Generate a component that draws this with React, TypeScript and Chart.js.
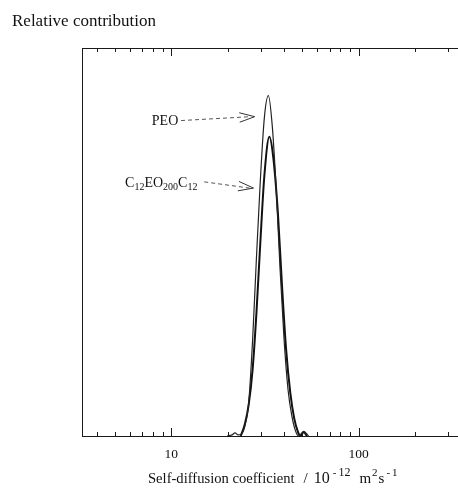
import React, { useEffect, useRef } from 'react';
import { Chart, registerables } from 'chart.js';
Chart.register(...registerables);

const FONT = '"Liberation Serif", "Times New Roman", serif';

// Self-diffusion coefficient (10^-12 m^2 s^-1) and relative contribution
const peoD = [19.9, 21.1, 21.9, 22.7, 23.5, 24.7, 25.9, 27.2, 28.5, 29.9, 31.4, 33.0, 34.6, 36.3, 38.1, 40.0, 42.0, 44.1, 46.3, 48.0, 50.9, 54.1];
const peoY = [0, 0.003, 0.008, 0.003, 0.004, 0.025, 0.085, 0.25, 0.46, 0.66, 0.82, 0.877, 0.8, 0.64, 0.43, 0.25, 0.12, 0.05, 0.01, 0, 0.012, 0];

const c12D = [23.5, 24.7, 25.9, 27.2, 28.5, 29.9, 31.4, 33.4, 35.0, 37.1, 39.0, 41.0, 43.2, 45.3, 47.5, 49.0, 50.9, 53.0];
const c12Y = [0, 0.03, 0.08, 0.173, 0.318, 0.5, 0.67, 0.771, 0.72, 0.574, 0.389, 0.225, 0.111, 0.046, 0.01, 0, 0.01, 0];

const majorTicks = [10, 100];
const minorTicks = [4, 5, 6, 7, 8, 9, 20, 30, 40, 50, 60, 70, 80, 90, 200, 300];
const xMin = 3.34;
const xMax = 303;

// annotation anchors in data coordinates
const peoLabel = { text: 'PEO', x: 10.9, y: 0.802 };
const peoArrow = { x0: 11.28, y0: 0.813, x1: 27.9, y1: 0.823 };
const c12Label = { x: 5.67, y: 0.642 };
const c12Arrow = { x0: 15.0, y0: 0.655, x1: 27.5, y1: 0.639 };

type Part = { t: string; size: number; dy: number; gap?: number };

function drawRich(ctx: CanvasRenderingContext2D, parts: Part[], x: number, y: number, align: 'left' | 'right' | 'center') {
  let total = 0;
  for (const p of parts) {
    ctx.font = `${p.size}px ${FONT}`;
    total += ctx.measureText(p.t).width + (p.gap || 0);
  }
  let cx = align === 'left' ? x : align === 'right' ? x - total : x - total / 2;
  ctx.textAlign = 'left';
  ctx.textBaseline = 'alphabetic';
  for (const p of parts) {
    ctx.font = `${p.size}px ${FONT}`;
    cx += p.gap || 0;
    ctx.fillText(p.t, cx, y + p.dy);
    cx += ctx.measureText(p.t).width;
  }
}

function drawArrow(ctx: CanvasRenderingContext2D, x0: number, y0: number, x1: number, y1: number) {
  ctx.save();
  ctx.strokeStyle = '#555';
  ctx.lineWidth = 1;
  ctx.setLineDash([4, 3]);
  ctx.beginPath();
  ctx.moveTo(x0, y0);
  ctx.lineTo(x1 - 4, y1);
  ctx.stroke();
  ctx.setLineDash([]);
  const ang = Math.atan2(y1 - y0, x1 - x0);
  const L = 16;
  const spread = 0.3;
  ctx.strokeStyle = '#333';
  ctx.beginPath();
  ctx.moveTo(x1 + L * Math.cos(ang + Math.PI - spread), y1 + L * Math.sin(ang + Math.PI - spread));
  ctx.lineTo(x1, y1);
  ctx.lineTo(x1 + L * Math.cos(ang + Math.PI + spread), y1 + L * Math.sin(ang + Math.PI + spread));
  ctx.stroke();
  ctx.restore();
}

export default function App() {
  const ref = useRef<HTMLCanvasElement>(null);

  useEffect(() => {
    const canvas = ref.current!;
    const framePlugin = {
      id: 'frame',
      afterDraw(chart: any) {
        const { ctx, chartArea: a, scales } = chart;
        const xs = scales.x;
        const ys = scales.y;
        ctx.save();
        ctx.strokeStyle = '#1a1a1a';
        ctx.lineWidth = 1;
        ctx.beginPath();
        ctx.moveTo(a.left + 0.5, a.top);
        ctx.lineTo(a.left + 0.5, a.bottom + 1);
        ctx.moveTo(a.left, a.top + 0.5);
        ctx.lineTo(458, a.top + 0.5);
        ctx.moveTo(a.left, a.bottom + 0.5);
        ctx.lineTo(458, a.bottom + 0.5);
        const all: [number, number][] = [
          ...majorTicks.map((v) => [v, 8] as [number, number]),
          ...minorTicks.map((v) => [v, 4] as [number, number]),
        ];
        for (const [v, len] of all) {
          const px = Math.round(xs.getPixelForValue(v)) + 0.5;
          ctx.moveTo(px, a.bottom);
          ctx.lineTo(px, a.bottom - len);
          ctx.moveTo(px, a.top);
          ctx.lineTo(px, a.top + len);
        }
        ctx.stroke();

        ctx.fillStyle = '#111';
        // y axis title (top-left)
        drawRich(ctx, [{ t: 'Relative contribution', size: 17, dy: 0 }], 12, 26, 'left');

        // x axis title
        drawRich(
          ctx,
          [
            { t: 'Self-diffusion coefficient', size: 14.6, dy: 0 },
            { t: '/', size: 15, dy: 0, gap: 9 },
            { t: '10', size: 16, dy: 0, gap: 6 },
            { t: '-', size: 11, dy: -7, gap: 3 },
            { t: '12', size: 12, dy: -7, gap: 2 },
            { t: 'm', size: 15, dy: 0, gap: 9 },
            { t: '2', size: 11, dy: -7, gap: 1 },
            { t: 's', size: 15, dy: 0, gap: 1 },
            { t: '-', size: 11, dy: -7, gap: 2 },
            { t: '1', size: 11, dy: -7, gap: 2 },
          ],
          148,
          483,
          'left'
        );

        // annotations
        drawRich(ctx, [{ t: peoLabel.text, size: 14, dy: 0 }], xs.getPixelForValue(peoLabel.x), ys.getPixelForValue(peoLabel.y), 'right');
        drawRich(
          ctx,
          [
            { t: 'C', size: 14, dy: 0 },
            { t: '12', size: 10, dy: 3 },
            { t: 'EO', size: 14, dy: 0 },
            { t: '200', size: 10, dy: 3 },
            { t: 'C', size: 14, dy: 0 },
            { t: '12', size: 10, dy: 3 },
          ],
          xs.getPixelForValue(c12Label.x),
          ys.getPixelForValue(c12Label.y),
          'left'
        );
        drawArrow(ctx, xs.getPixelForValue(peoArrow.x0), ys.getPixelForValue(peoArrow.y0), xs.getPixelForValue(peoArrow.x1), ys.getPixelForValue(peoArrow.y1));
        drawArrow(ctx, xs.getPixelForValue(c12Arrow.x0), ys.getPixelForValue(c12Arrow.y0), xs.getPixelForValue(c12Arrow.x1), ys.getPixelForValue(c12Arrow.y1));
        ctx.restore();
      },
    };

    const chart = new Chart(canvas, {
      type: 'line',
      data: {
        datasets: [
          {
            label: 'PEO',
            data: peoD.map((d, i) => ({ x: d, y: peoY[i] })),
            borderColor: '#222',
            borderWidth: 1.2,
            pointRadius: 0,
            cubicInterpolationMode: 'monotone',
            fill: false,
          },
          {
            label: 'C12EO200C12',
            data: c12D.map((d, i) => ({ x: d, y: c12Y[i] })),
            borderColor: '#111',
            borderWidth: 2,
            pointRadius: 0,
            cubicInterpolationMode: 'monotone',
            fill: false,
          },
        ],
      },
      options: {
        responsive: false,
        animation: false,
        layout: { padding: { left: 82, right: 2, top: 48, bottom: 0 } },
        plugins: { legend: { display: false }, tooltip: { enabled: false }, title: { display: false } },
        scales: {
          x: {
            type: 'logarithmic',
            min: xMin,
            max: xMax,
            grid: { display: false, drawTicks: false },
            border: { display: false },
            afterBuildTicks: (s: any) => {
              s.ticks = [...majorTicks, ...minorTicks].sort((p, q) => p - q).map((v) => ({ value: v }));
            },
            afterFit: (s: any) => {
              s.height = 55;
            },
            ticks: {
              autoSkip: false,
              maxRotation: 0,
              padding: 10,
              color: '#111',
              font: { family: FONT, size: 13.5 },
              callback: (v: any) => (majorTicks.includes(Number(v)) ? String(v) : ''),
            },
          },
          y: {
            type: 'linear',
            min: 0,
            max: 1,
            display: false,
          },
        },
      },
      plugins: [framePlugin],
    } as any);
    return () => chart.destroy();
  }, []);

  return (
    <div style={{ position: 'absolute', left: 0, top: 0, width: 458, height: 491, background: '#fff' }}>
      <canvas ref={ref} width={458} height={491} style={{ display: 'block' }} />
    </div>
  );
}
